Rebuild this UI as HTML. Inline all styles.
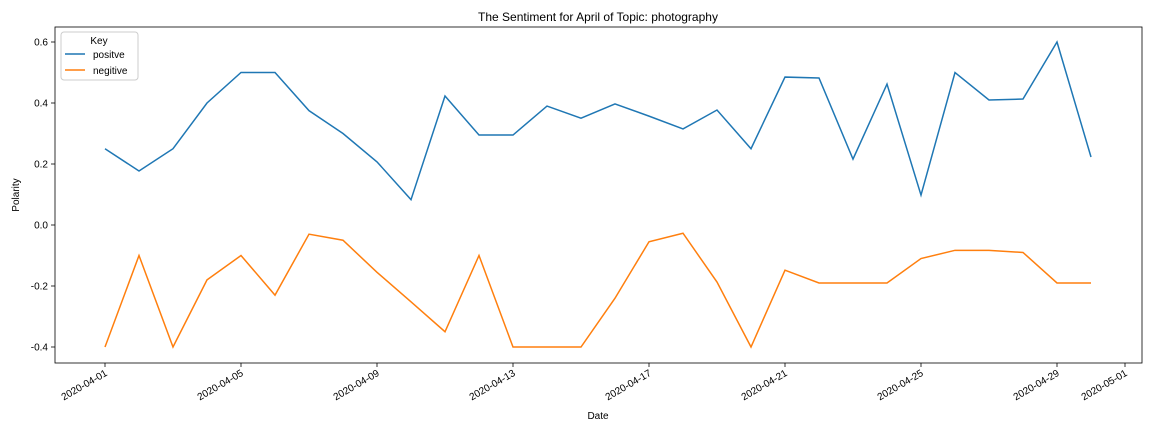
<!DOCTYPE html>
<html><head><meta charset="utf-8"><style>
body{margin:0;background:#fff;}
svg{font-family:"Liberation Sans",sans-serif;}
</style></head><body>
<svg id="chart" width="1152" height="432">
<text x="598" y="21" font-size="12" text-anchor="middle">The Sentiment for April of Topic: photography</text>
<g id="plot"></g>
<text x="598" y="419" font-size="10" text-anchor="middle">Date</text>
<text x="19" y="195" font-size="10" text-anchor="middle" transform="rotate(-90 19 195)">Polarity</text>
</svg>
<script>
const days = Array.from({length:30},(_,i)=>i+1);
const positive = [0.25,0.177,0.25,0.4,0.5,0.5,0.375,0.3,0.207,0.083,0.423,0.295,0.295,0.39,0.35,0.397,0.357,0.315,0.377,0.25,0.485,0.482,0.216,0.462,0.098,0.5,0.41,0.413,0.6,0.223];
const negative = [-0.4,-0.1,-0.4,-0.18,-0.1,-0.23,-0.03,-0.05,-0.155,-0.252,-0.35,-0.1,-0.4,-0.4,-0.4,-0.24,-0.055,-0.027,-0.187,-0.4,-0.148,-0.19,-0.19,-0.19,-0.11,-0.083,-0.083,-0.09,-0.19,-0.19];
const yTicks = [-0.4,-0.2,0.0,0.2,0.4,0.6];
const xTickDays = [1,5,9,13,17,21,25,29,31];
const xTickLabels = ["2020-04-01","2020-04-05","2020-04-09","2020-04-13","2020-04-17","2020-04-21","2020-04-25","2020-04-29","2020-05-01"];
const L=55,R=1142,T=27,B=363;
const xs=d=>105+(d-1)*34;
const ys=v=>225-v*305;
const NS="http://www.w3.org/2000/svg";
const g=document.getElementById('plot');
function mk(t,a){const e=document.createElementNS(NS,t);for(const k in a)e.setAttribute(k,a[k]);g.appendChild(e);return e;}
const frame=mk('rect',{x:L,y:T,width:R-L,height:B-T,fill:'none',stroke:'#000','stroke-width':0.8});


yTicks.forEach(v=>{
  const y=ys(v);
  const t=mk('line',{x1:L-4,x2:L,y1:y,y2:y,stroke:'#000','stroke-width':0.8});
  
  
  const l=mk('text',{x:L-7,y:y+3.5,'font-size':10,'text-anchor':'end'});
  l.textContent=v.toFixed(1);
  
  
});
xTickDays.forEach((d,i)=>{
  const x=xs(d);
  const t=mk('line',{x1:x,x2:x,y1:B,y2:B+4,stroke:'#000','stroke-width':0.8});
  
  
  const l=mk('text',{x:x+3,y:B+12,'font-size':10,'text-anchor':'end',transform:`rotate(-30 ${x+3} ${B+12})`});
  l.textContent=xTickLabels[i];
  
  
});
function line(data,color,name){
  const p=mk('polyline',{points:data.map((v,i)=>xs(days[i])+','+ys(v)).join(' '),fill:'none',stroke:color,'stroke-width':1.5});
  
  
}
line(positive,'#1f77b4','positive-line');
line(negative,'#ff7f0e','negative-line');
const lg=mk('rect',{x:61,y:32,width:77,height:48,fill:'#fff',stroke:'#ccc',rx:3});


const lt=mk('text',{x:99,y:44,'font-size':10,'text-anchor':'middle'});lt.textContent='Key';


[['positve','#1f77b4',58],['negitive','#ff7f0e',74]].forEach(([n,c,y])=>{
  const s=mk('line',{x1:65,x2:85,y1:y-4,y2:y-4,stroke:c,'stroke-width':1.5});
  
  
  const t=mk('text',{x:93,y:y,'font-size':10});t.textContent=n;
  
  
});
</script>
</body></html>
